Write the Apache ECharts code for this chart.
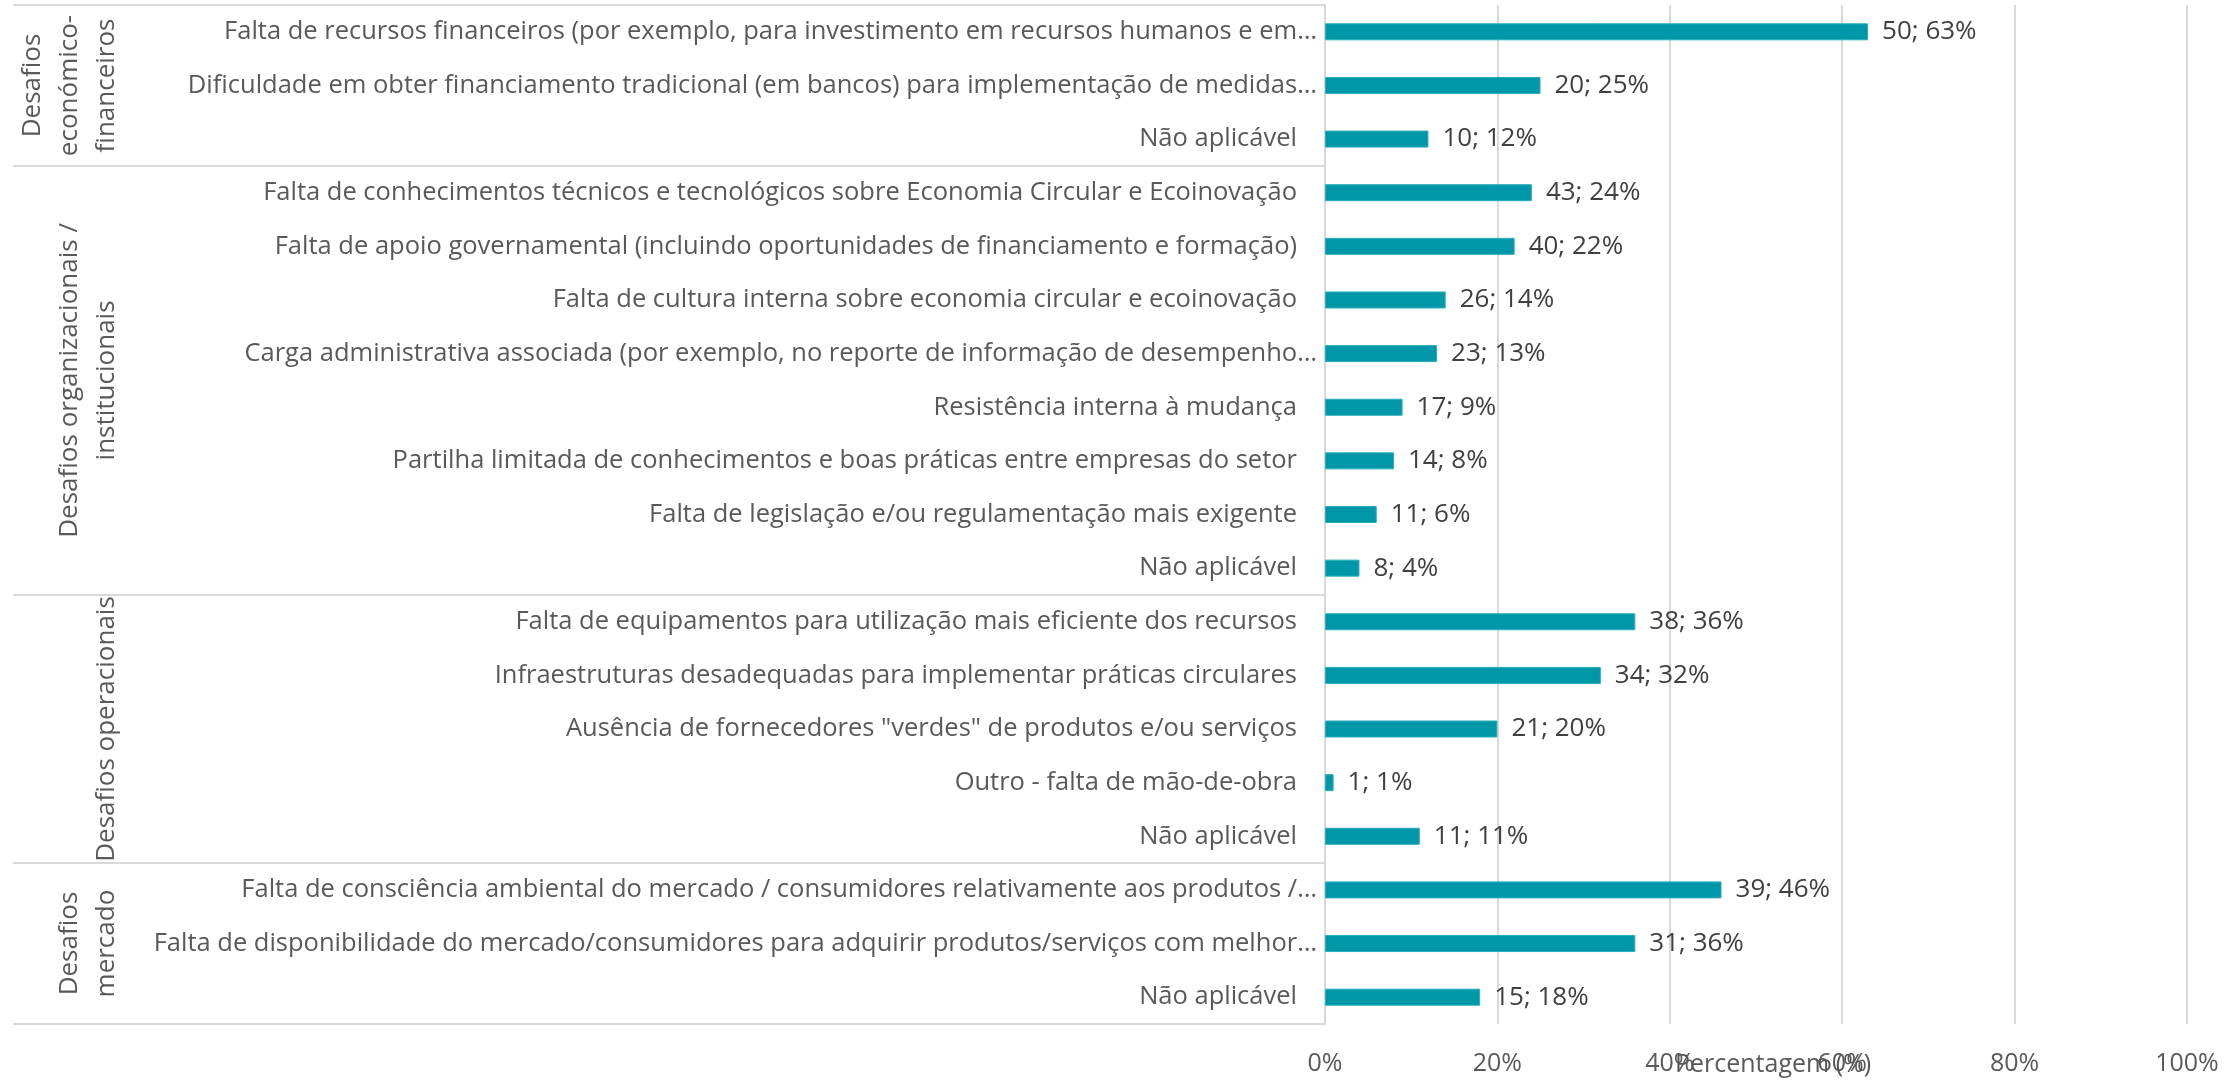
<!DOCTYPE html>
<html>
<head>
<meta charset="utf-8">
<title>Desafios</title>
<script src="https://cdn.jsdelivr.net/npm/echarts@6/dist/echarts.min.js"></script>
<style>
  html, body { margin: 0; padding: 0; background: #fff; }
  #chart { width: 2240px; height: 1081px; }
</style>
</head>
<body>
<div id="chart"></div>
<script>
const categories = [
  'Falta de recursos financeiros (por exemplo, para investimento em recursos humanos e em…',
  'Dificuldade em obter financiamento tradicional (em bancos) para implementação de medidas…',
  'Não aplicável',
  'Falta de conhecimentos técnicos e tecnológicos sobre Economia Circular e Ecoinovação',
  'Falta de apoio governamental (incluindo oportunidades de financiamento e formação)',
  'Falta de cultura interna sobre economia circular e ecoinovação',
  'Carga administrativa associada (por exemplo, no reporte de informação de desempenho…',
  'Resistência interna à mudança',
  'Partilha limitada de conhecimentos e boas práticas entre empresas do setor',
  'Falta de legislação e/ou regulamentação mais exigente',
  'Não aplicável',
  'Falta de equipamentos para utilização mais eficiente dos recursos',
  'Infraestruturas desadequadas para implementar práticas circulares',
  'Ausência de fornecedores "verdes" de produtos e/ou serviços',
  'Outro - falta de mão-de-obra',
  'Não aplicável',
  'Falta de consciência ambiental do mercado / consumidores relativamente aos produtos /…',
  'Falta de disponibilidade do mercado/consumidores para adquirir produtos/serviços com melhor…',
  'Não aplicável'
]
const counts = [50, 20, 10, 43, 40, 26, 23, 17, 14, 11, 8, 38, 34, 21, 1, 11, 39, 31, 15]
const percents = [63, 25, 12, 24, 22, 14, 13, 9, 8, 6, 4, 36, 32, 20, 1, 11, 46, 36, 18]

const groupNames = [
  'Desafios\neconómico-\nfinanceiros',
  'Desafios organizacionais /\ninstitucionais',
  'Desafios operacionais',
  'Desafios\nmercado'
]
const groupSizes = [3, 8, 5, 3]

const FONT = "'Open Sans', 'Noto Sans', sans-serif"
const TEXT_COLOR = '#595959'
const LINE_COLOR = '#d9d9d9'

const chart = echarts.init(document.getElementById('chart'))

chart.setOption({
  animation: false,
  grid: { left: 1325, right: 53, top: 5, bottom: 57, outerBoundsMode: 'none' },
  xAxis: {
    type: 'value',
    min: 0,
    max: 100,
    interval: 20,
    name: 'Percentagem (%)',
    nameLocation: 'middle',
    nameGap: 28,
    nameMoveOverlap: false,
    nameTextStyle: { fontFamily: FONT, fontSize: 25, color: TEXT_COLOR, padding: [0, 0, 0, 34] },
    axisLine: { show: false },
    axisTick: { show: false },
    axisLabel: { fontFamily: FONT, fontSize: 25, color: TEXT_COLOR, margin: 27, formatter: '{value}%' },
    splitLine: { lineStyle: { color: LINE_COLOR, width: 2 } }
  },
  yAxis: {
    type: 'category',
    inverse: true,
    data: categories,
    axisLine: { show: true, lineStyle: { color: LINE_COLOR, width: 2 } },
    axisTick: { show: false },
    axisLabel: {
      margin: 8,
      formatter: (v) => v.endsWith('…') ? '{t|' + v + '}' : '{n|' + v + '}',
      rich: {
        t: { fontFamily: FONT, fontSize: 25.5, color: TEXT_COLOR },
        n: { fontFamily: FONT, fontSize: 25.5, color: TEXT_COLOR, padding: [0, 20, 0, 0] }
      }
    }
  },
  series: [{
    type: 'bar',
    data: percents,
    barWidth: 17,
    itemStyle: { color: '#0097a9', borderColor: '#27aebd', borderWidth: 1 },
    label: {
      show: true,
      position: 'right',
      distance: 14,
      fontFamily: FONT,
      fontSize: 26,
      color: '#404040',
      formatter: (p) => counts[p.dataIndex] + '; ' + percents[p.dataIndex] + '%'
    }
  }]
})

// group separators and rotated group labels, placed from the category axis
const buildGroups = () => {
  const c0 = chart.convertToPixel({ yAxisIndex: 0 }, 0)
  const c1 = chart.convertToPixel({ yAxisIndex: 0 }, 1)
  const band = c1 - c0
  const xRight = chart.convertToPixel({ xAxisIndex: 0 }, 0)
  const elements = []
  let start = 0
  const edge = (i) => c0 + (i - 0.5) * band
  elements.push({ type: 'line', shape: { x1: 13, y1: edge(0), x2: xRight, y2: edge(0) }, style: { stroke: LINE_COLOR, lineWidth: 2 } })
  groupSizes.forEach((size, g) => {
    const end = start + size
    elements.push({ type: 'line', shape: { x1: 13, y1: edge(end), x2: xRight, y2: edge(end) }, style: { stroke: LINE_COLOR, lineWidth: 2 } })
    elements.push({
      type: 'text',
      x: 125,
      y: (edge(start) + edge(end)) / 2,
      rotation: Math.PI / 2,
      style: {
        text: groupNames[g],
        fontFamily: FONT,
        fontSize: 26,
        lineHeight: 37,
        fill: TEXT_COLOR,
        align: 'center',
        verticalAlign: 'bottom'
      }
    })
    start = end
  })
  chart.setOption({ graphic: elements })
}

buildGroups()
</script>
</body>
</html>
